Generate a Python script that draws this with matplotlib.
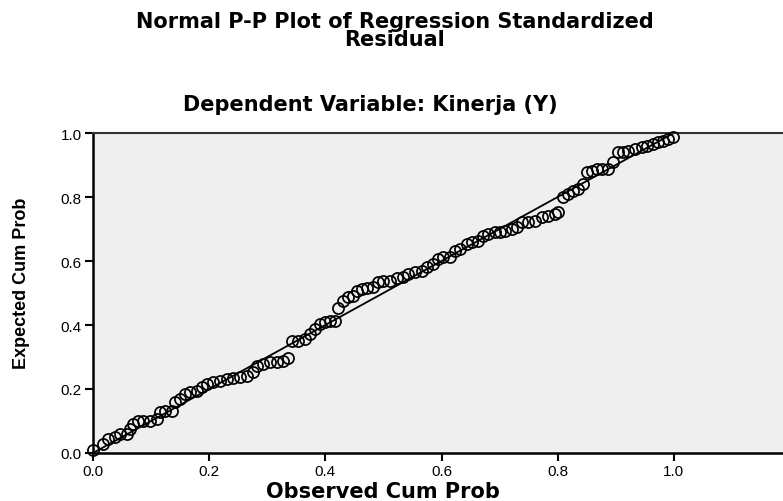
import matplotlib
matplotlib.use("Agg")
import matplotlib.pyplot as plt

observed = [0.0, 0.017, 0.026, 0.038, 0.046, 0.058, 0.064, 0.069, 0.077, 0.086,
            0.098, 0.11, 0.115, 0.124, 0.136, 0.141, 0.15, 0.158, 0.167, 0.179,
            0.188, 0.196, 0.207, 0.219, 0.23, 0.241, 0.253, 0.265, 0.275, 0.282,
            0.293, 0.305, 0.317, 0.327, 0.336, 0.343, 0.353, 0.365, 0.373, 0.382,
            0.391, 0.4, 0.408, 0.417, 0.422, 0.43, 0.439, 0.448, 0.454, 0.463,
            0.472, 0.482, 0.49, 0.499, 0.511, 0.523, 0.534, 0.542, 0.554, 0.566,
            0.575, 0.585, 0.594, 0.602, 0.614, 0.623, 0.632, 0.644, 0.652, 0.663,
            0.671, 0.68, 0.692, 0.7, 0.709, 0.721, 0.73, 0.738, 0.749, 0.761,
            0.773, 0.783, 0.795, 0.8, 0.809, 0.818, 0.826, 0.835, 0.843, 0.85,
            0.859, 0.867, 0.876, 0.886, 0.895, 0.904, 0.912, 0.921, 0.933, 0.945,
            0.954, 0.964, 0.973, 0.981, 0.99, 0.998]
expected = [0.01, 0.028, 0.044, 0.05, 0.06, 0.06, 0.075, 0.09, 0.1, 0.1,
            0.1, 0.106, 0.128, 0.131, 0.131, 0.159, 0.169, 0.184, 0.19, 0.194,
            0.206, 0.216, 0.222, 0.225, 0.231, 0.234, 0.237, 0.24, 0.253, 0.272,
            0.278, 0.284, 0.284, 0.288, 0.297, 0.35, 0.35, 0.356, 0.372, 0.387,
            0.403, 0.409, 0.412, 0.412, 0.453, 0.475, 0.487, 0.49, 0.506, 0.513,
            0.516, 0.519, 0.534, 0.538, 0.538, 0.547, 0.55, 0.559, 0.566, 0.569,
            0.581, 0.59, 0.606, 0.612, 0.612, 0.631, 0.638, 0.653, 0.659, 0.663,
            0.678, 0.684, 0.691, 0.691, 0.694, 0.7, 0.706, 0.722, 0.722, 0.725,
            0.738, 0.741, 0.747, 0.753, 0.8, 0.809, 0.819, 0.825, 0.84, 0.878,
            0.881, 0.888, 0.888, 0.888, 0.909, 0.941, 0.941, 0.944, 0.95, 0.956,
            0.959, 0.966, 0.972, 0.975, 0.981, 0.988]
ref_line = [0.0, 1.0]
ticks = [0.0, 0.2, 0.4, 0.6, 0.8, 1.0]
tick_labels = ["0.0", "0.2", "0.4", "0.6", "0.8", "1.0"]

plt.rcParams['font.family'] = ['Liberation Sans', 'DejaVu Sans']
wide = ['DejaVu Sans']
arial = ['Liberation Sans', 'DejaVu Sans']

fig = plt.figure(figsize=(7.83, 5.02), dpi=100)
fig.patch.set_facecolor('white')
ax = fig.add_axes([93/783, 48/502, 697/783, 320/502])
ax.set_facecolor('#efefef')

ax.plot(ref_line, ref_line, color='black', lw=1.3, zorder=2)
ax.plot(observed, expected, linestyle='none', marker='o', markersize=8,
        markerfacecolor='none', markeredgecolor='black', markeredgewidth=1.25,
        zorder=3, clip_on=False)

ax.set_xlim(0, 1.2)
ax.set_ylim(0, 1.0)
ax.set_xticks(ticks)
ax.set_xticklabels(tick_labels, fontsize=11, family=arial)
ax.set_yticks(ticks)
ax.set_yticklabels(tick_labels, fontsize=11, family=arial)
ax.tick_params(direction='out', length=6, width=1.5, color='black', pad=2)

for s in ['left', 'bottom']:
    ax.spines[s].set_linewidth(1.8)
    ax.spines[s].set_color('black')
ax.spines['top'].set_linewidth(1.5)
ax.spines['top'].set_color('#333333')
ax.spines['right'].set_visible(False)

fig.text(395/783, 1 - 12/502, "Normal P-P Plot of Regression Standardized\nResidual",
         ha='center', va='top', fontsize=15, fontweight='bold', linespacing=0.85,
         family=wide)
fig.text(370/783, 1 - 105/502, "Dependent Variable: Kinerja (Y)",
         ha='center', va='center', fontsize=15, fontweight='bold', family=wide)
fig.text(383/783, 1 - 492/502, "Observed Cum Prob",
         ha='center', va='center', fontsize=15, fontweight='bold', family=wide)
fig.text(22/783, 1 - 283/502, "Expected Cum Prob", rotation=90,
         ha='center', va='center', fontsize=13, fontweight='bold', family=arial)

fig.savefig("out.png", dpi=100)
